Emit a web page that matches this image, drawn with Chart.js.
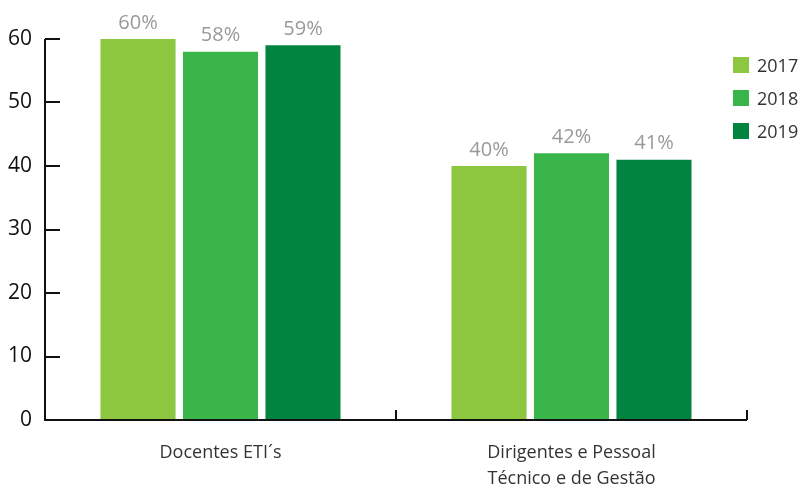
<!DOCTYPE html>
<html>
<head>
<meta charset="utf-8">
<script src="https://cdn.jsdelivr.net/npm/chart.js@4"></script>
<style>
  body { margin: 0; background: #fff; }
  #wrap { position: relative; width: 800px; height: 485px; }
  #legend { position: absolute; left: 733px; top: 48px; font-family: 'Open Sans', sans-serif; font-size: 18px; color: #333; }
  #legend div { display: flex; align-items: center; height: 33px; }
  #legend span.sw { display: inline-block; width: 16px; height: 16px; margin-right: 8px; }
</style>
</head>
<body>
<div id="wrap">
  <canvas id="barChart" width="800" height="485"></canvas>
  <div id="legend"></div>
</div>
<script>
const categories = ['Docentes ETI´s', ['Dirigentes e Pessoal', 'Técnico e de Gestão']];
const years = ['2017', '2018', '2019'];
const values2017 = [60, 40];
const values2018 = [58, 42];
const values2019 = [59, 41];
const yTicks = [0, 10, 20, 30, 40, 50, 60];
const colors = ['#8dc63f', '#39b54a', '#00843f'];

const fontFamily = "'Open Sans', sans-serif";

// axis lines with ticks pointing into the plot
const axisPlugin = {
  id: 'axisTicks',
  afterDraw(chart) {
    const { ctx, chartArea } = chart;
    const y = chart.scales.y;
    ctx.save();
    ctx.strokeStyle = '#111';
    ctx.lineWidth = 2;
    ctx.beginPath();
    ctx.moveTo(chartArea.left, y.getPixelForValue(60));
    ctx.lineTo(chartArea.left, chartArea.bottom);
    ctx.lineTo(chartArea.right, chartArea.bottom);
    for (const v of yTicks) {
      const py = Math.round(y.getPixelForValue(v));
      ctx.moveTo(chartArea.left, py);
      ctx.lineTo(chartArea.left + 15, py);
    }
    const step = (chartArea.right - chartArea.left) / categories.length;
    for (let i = 1; i <= categories.length; i++) {
      const px = Math.round(chartArea.left + step * i);
      ctx.moveTo(px, chartArea.bottom);
      ctx.lineTo(px, chartArea.bottom - 10);
    }
    ctx.stroke();
    ctx.restore();
  },
};

// percentage labels above each bar
const valueLabels = {
  id: 'valueLabels',
  afterDatasetsDraw(chart) {
    const { ctx } = chart;
    ctx.save();
    ctx.font = `20px ${fontFamily}`;
    ctx.fillStyle = '#999';
    ctx.textAlign = 'center';
    ctx.textBaseline = 'bottom';
    chart.data.datasets.forEach((ds, i) => {
      chart.getDatasetMeta(i).data.forEach((bar, j) => {
        ctx.fillText(`${ds.data[j]}%`, bar.x, bar.y - 6);
      });
    });
    ctx.restore();
  },
};

const datasets = [values2017, values2018, values2019].map((data, i) => ({
  label: years[i],
  data,
  backgroundColor: colors[i],
  categoryPercentage: 0.705,
  barPercentage: 0.91,
}));

new Chart(document.getElementById('barChart'), {
  type: 'bar',
  data: { labels: categories, datasets },
  options: {
    responsive: false,
    animation: false,
    layout: { padding: { top: 39, right: 53, left: 0, bottom: 0 } },
    plugins: { legend: { display: false }, tooltip: { enabled: false } },
    scales: {
      x: {
        grid: { display: false },
        border: { display: false },
        ticks: { color: '#333', font: { family: fontFamily, size: 18, lineHeight: 1.45 }, padding: 12 },
        afterFit(scale) { scale.height = 65; },
      },
      y: {
        min: 0,
        max: 60,
        grid: { display: false },
        border: { display: false },
        ticks: { stepSize: 10, color: '#111', font: { family: fontFamily, size: 21 }, padding: 5 },
        afterFit(scale) { scale.width = 45; },
      },
    },
  },
  plugins: [axisPlugin, valueLabels],
});

const legendEl = document.getElementById('legend');
years.forEach((yr, i) => {
  const row = document.createElement('div');
  row.innerHTML = `<span class="sw" style="background:${colors[i]}"></span>${yr}`;
  legendEl.appendChild(row);
});
</script>
</body>
</html>
